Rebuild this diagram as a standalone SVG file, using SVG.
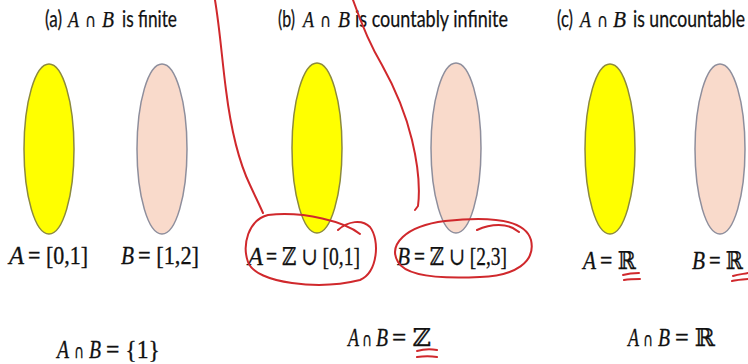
<svg xmlns="http://www.w3.org/2000/svg" width="748" height="364" viewBox="0 0 748 364">
<style>
text{fill:#111111;stroke:#111111}
.t{font-family:Lato,"Open Sans","DejaVu Sans",sans-serif;font-size:22.5px;stroke-width:0.25}
.ti{font-family:"Liberation Serif","DejaVu Serif",serif;font-style:italic;font-size:23px;stroke-width:0.25}
.tc{font-family:"DejaVu Sans",sans-serif;font-size:19px;stroke-width:0.2}
.m{font-family:"Liberation Serif","DejaVu Serif",serif;font-size:24.5px;stroke-width:0.3}
.mc{font-family:"DejaVu Sans",sans-serif;font-size:19px;stroke-width:0.25}
.i{font-style:italic}
.A{fill:#ffff00;stroke:#8c8a3c;stroke-width:1.5}
.B{fill:#f9dacb;stroke:#8e8e9c;stroke-width:1.5}
.ink{fill:none;stroke:#d0282c;stroke-width:2;stroke-linecap:round;stroke-linejoin:round}
</style>
<rect width="748" height="364" fill="#ffffff"/>

<g id="title_a">
<text class="t" x="45" y="27" textLength="17" lengthAdjust="spacingAndGlyphs">(a)</text>
<text class="ti" x="68" y="27" textLength="11" lengthAdjust="spacingAndGlyphs">A</text>
<text class="tc" x="85" y="27" textLength="11" lengthAdjust="spacingAndGlyphs">∩</text>
<text class="ti" x="102" y="27" textLength="12" lengthAdjust="spacingAndGlyphs">B</text>
<text class="t" x="122" y="27" textLength="55" lengthAdjust="spacingAndGlyphs">is finite</text>
</g>
<g id="title_b">
<text class="t" x="278" y="27" textLength="17" lengthAdjust="spacingAndGlyphs">(b)</text>
<text class="ti" x="303" y="27" textLength="11" lengthAdjust="spacingAndGlyphs">A</text>
<text class="tc" x="320" y="27" textLength="11" lengthAdjust="spacingAndGlyphs">∩</text>
<text class="ti" x="338" y="27" textLength="12" lengthAdjust="spacingAndGlyphs">B</text>
<text class="t" x="355" y="27" textLength="153" lengthAdjust="spacingAndGlyphs">is countably infinite</text>
</g>
<g id="title_c">
<text class="t" x="557" y="27" textLength="16" lengthAdjust="spacingAndGlyphs">(c)</text>
<text class="ti" x="580" y="27" textLength="11" lengthAdjust="spacingAndGlyphs">A</text>
<text class="tc" x="597" y="27" textLength="11" lengthAdjust="spacingAndGlyphs">∩</text>
<text class="ti" x="613" y="27" textLength="13" lengthAdjust="spacingAndGlyphs">B</text>
<text class="t" style="font-size:17px;stroke-width:0.2" transform="translate(633,27) scale(1,1.32)" x="0" y="0" textLength="112" lengthAdjust="spacingAndGlyphs">is uncountable</text>
</g>

<g id="setA_a"><ellipse class="A" cx="49" cy="149" rx="25" ry="85"/>
<text class="m i" x="9" y="264" textLength="15" lengthAdjust="spacingAndGlyphs">A</text>
<text class="m" x="28" y="264" textLength="60" lengthAdjust="spacingAndGlyphs">= [0,1]</text></g>
<g id="setB_a"><ellipse class="B" cx="162" cy="149" rx="25" ry="85"/>
<text class="m i" x="121" y="264" textLength="13" lengthAdjust="spacingAndGlyphs">B</text>
<text class="m" x="138" y="264" textLength="61" lengthAdjust="spacingAndGlyphs">= [1,2]</text></g>

<g id="setA_b"><ellipse class="A" cx="317" cy="148" rx="25" ry="85"/>
<text class="m i" x="248" y="265" textLength="15" lengthAdjust="spacingAndGlyphs">A</text>
<text class="m" x="266" y="265" textLength="94" lengthAdjust="spacingAndGlyphs">= ℤ ∪ [0,1]</text></g>
<g id="setB_b"><ellipse class="B" cx="456" cy="148" rx="25" ry="85"/>
<text class="m i" x="397" y="265" textLength="13" lengthAdjust="spacingAndGlyphs">B</text>
<text class="m" x="414" y="265" textLength="93" lengthAdjust="spacingAndGlyphs">= ℤ ∪ [2,3]</text></g>

<g id="setA_c"><ellipse class="A" cx="610" cy="149" rx="25" ry="85"/>
<text class="m i" x="583" y="269" textLength="13" lengthAdjust="spacingAndGlyphs">A</text>
<text class="m" x="600" y="269" textLength="36" lengthAdjust="spacingAndGlyphs">= ℝ</text></g>
<g id="setB_c"><ellipse class="B" cx="720" cy="149" rx="25" ry="85"/>
<text class="m i" x="692" y="269" textLength="13" lengthAdjust="spacingAndGlyphs">B</text>
<text class="m" x="709" y="269" textLength="34" lengthAdjust="spacingAndGlyphs">= ℝ</text></g>

<g id="intersection_a">
<text class="m i" x="57" y="358" textLength="12" lengthAdjust="spacingAndGlyphs">A</text>
<text class="mc" x="74" y="358" textLength="10" lengthAdjust="spacingAndGlyphs">∩</text>
<text class="m i" x="89" y="358" textLength="12" lengthAdjust="spacingAndGlyphs">B</text>
<text class="m" x="106" y="358" textLength="54" lengthAdjust="spacingAndGlyphs">= {1}</text>
</g>
<g id="intersection_b">
<text class="m i" x="348" y="346" textLength="11" lengthAdjust="spacingAndGlyphs">A</text>
<text class="mc" x="362" y="346" textLength="10" lengthAdjust="spacingAndGlyphs">∩</text>
<text class="m i" x="376" y="346" textLength="12" lengthAdjust="spacingAndGlyphs">B</text>
<text class="m" x="392" y="346" textLength="39" lengthAdjust="spacingAndGlyphs">= ℤ</text>
</g>
<g id="intersection_c">
<text class="m i" x="628" y="346" textLength="11" lengthAdjust="spacingAndGlyphs">A</text>
<text class="mc" x="643" y="346" textLength="10" lengthAdjust="spacingAndGlyphs">∩</text>
<text class="m i" x="658" y="346" textLength="12" lengthAdjust="spacingAndGlyphs">B</text>
<text class="m" x="675" y="346" textLength="40" lengthAdjust="spacingAndGlyphs">= ℝ</text>
</g>

<g id="annotations">
<path class="ink" d="M 215 0 C 220 30 222 60 226 90 C 231 130 238 160 250 185 C 256 198 260 206 263 213"/>
<path class="ink" d="M 353 0 C 360 20 370 45 382 65 C 396 90 406 115 412 140 C 418 165 420 190 418 206 L 415 210"/>
<path class="ink" d="M 360 234 C 345 222 305 211 268 215 C 248 220 242 245 248 262 C 256 284 320 290 360 280 C 378 272 380 240 370 227 C 362 219 348 221 338 230"/>
<path class="ink" d="M 398 262 C 388 245 405 226 445 221 C 490 216 525 219 531 240 C 536 262 515 276 480 277 C 440 279 406 276 398 262 Z"/>
<path class="ink" d="M 477 230 C 490 224 508 222 519 232"/>
<path class="ink" stroke-width="2.5" d="M 623 275 C 630 273 635 273 639 273 M 624 280 C 630 279 635 279 640 279"/>
<path class="ink" stroke-width="2.5" d="M 733 276 C 739 274 744 274 748 273 M 732 281 C 738 280 743 279 748 279"/>
<path class="ink" stroke-width="2.5" d="M 417 351 C 424 349 431 349 437 350 M 417 357 C 424 356 431 356 437 357"/>
</g>
</svg>
